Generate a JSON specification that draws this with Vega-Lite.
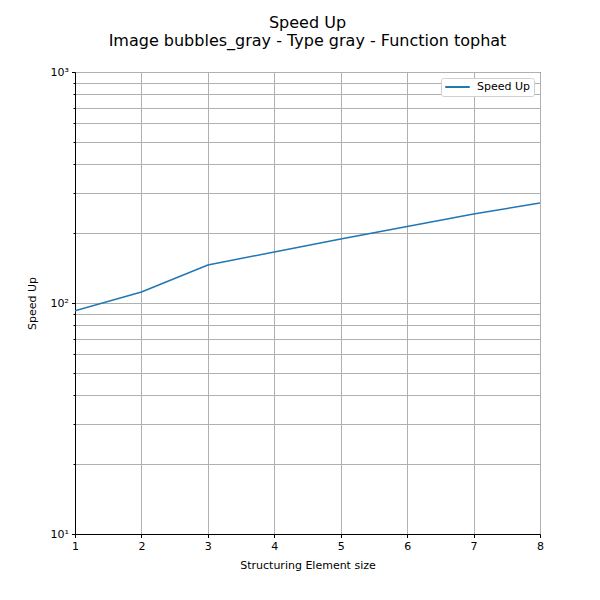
{
  "$schema": "https://vega.github.io/schema/vega-lite/v6.json",
  "width": 465,
  "height": 462,
  "autosize": {"type": "none"},
  "padding": {"left": 75, "top": 72, "right": 60, "bottom": 66},
  "background": "white",
  "config": {
    "font": "DejaVu Sans",
    "view": {"stroke": "black", "strokeWidth": 1},
    "axis": {
      "labelFont": "DejaVu Sans",
      "titleFont": "DejaVu Sans",
      "labelFontSize": 11,
      "titleFontSize": 11,
      "titleFontWeight": "normal",
      "labelColor": "#000000",
      "titleColor": "#000000",
      "domainColor": "#000000",
      "tickColor": "#000000",
      "gridColor": "#b0b0b0",
      "gridWidth": 1,
      "gridOpacity": 1
    }
  },
  "title": {
    "text": ["Speed Up", "Image bubbles_gray - Type gray - Function tophat"],
    "font": "DejaVu Sans",
    "fontSize": 16,
    "fontWeight": "normal",
    "color": "#000000",
    "anchor": "middle",
    "lineHeight": 18,
    "offset": 17
  },
  "data": {
    "values": [
      {"size": 1, "speedup": 92.6, "series": "Speed Up"},
      {"size": 2, "speedup": 111.6, "series": "Speed Up"},
      {"size": 3, "speedup": 146.0, "series": "Speed Up"},
      {"size": 4, "speedup": 166.3, "series": "Speed Up"},
      {"size": 5, "speedup": 189.3, "series": "Speed Up"},
      {"size": 6, "speedup": 214.6, "series": "Speed Up"},
      {"size": 7, "speedup": 242.7, "series": "Speed Up"},
      {"size": 8, "speedup": 270.9, "series": "Speed Up"}
    ]
  },
  "mark": {"type": "line", "strokeWidth": 1.5, "clip": true},
  "encoding": {
    "x": {
      "field": "size",
      "type": "quantitative",
      "scale": {"domain": [1, 8], "nice": false, "zero": false},
      "axis": {
        "title": "Structuring Element size",
        "values": [1, 2, 3, 4, 5, 6, 7, 8],
        "format": "d",
        "tickSize": 3.5,
        "labelPadding": 3,
        "titlePadding": 8,
        "grid": true,
        "labelFlush": false
      }
    },
    "y": {
      "field": "speedup",
      "type": "quantitative",
      "scale": {"type": "log", "domain": [10, 1000], "nice": false},
      "axis": {
        "title": "Speed Up",
        "values": [10, 20, 30, 40, 50, 60, 70, 80, 90, 100, 200, 300, 400, 500, 600, 700, 800, 900, 1000],
        "labelExpr": "datum.value == 10 ? '10¹' : datum.value == 100 ? '10²' : datum.value == 1000 ? '10³' : ''",
        "tickSize": {"condition": {"test": "datum.value == 10 || datum.value == 100 || datum.value == 1000", "value": 3.5}, "value": 2},
        "labelPadding": 3,
        "titlePadding": 13,
        "grid": true,
        "labelFlush": false
      }
    },
    "color": {
      "field": "series",
      "type": "nominal",
      "scale": {"range": ["#1f77b4"]},
      "legend": {
        "title": null,
        "orient": "top-right",
        "offset": 6,
        "symbolType": "stroke",
        "symbolStrokeWidth": 2,
        "symbolSize": 600,
        "clipHeight": 12,
        "labelFont": "DejaVu Sans",
        "labelFontSize": 11,
        "labelColor": "#000000",
        "labelOffset": 6,
        "strokeColor": "#d0d0d0",
        "fillColor": "white",
        "padding": 3,
        "cornerRadius": 2
      }
    }
  }
}
